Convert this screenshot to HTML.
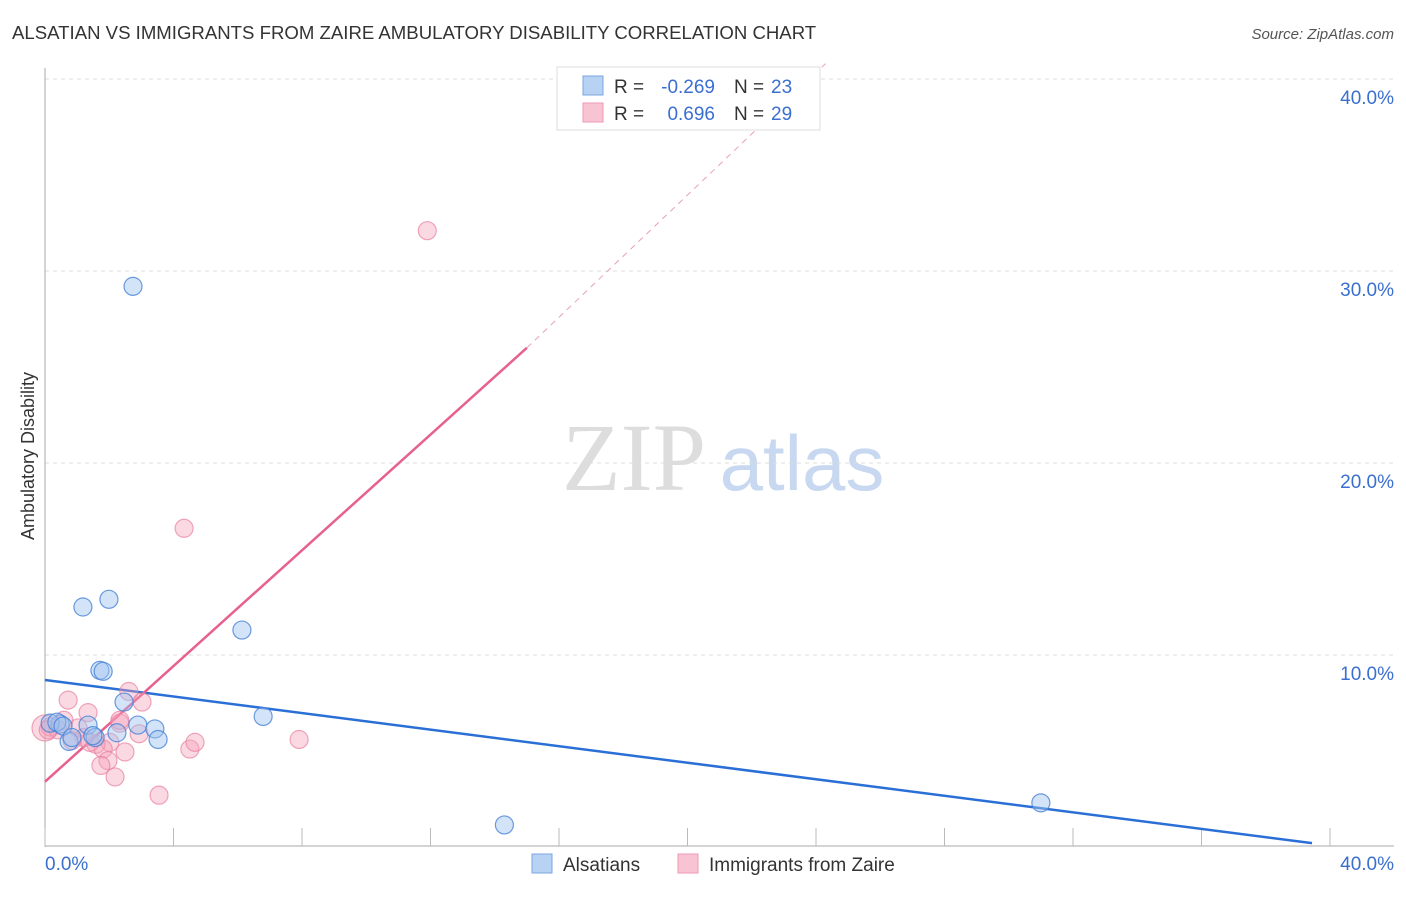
<!DOCTYPE html>
<html><head><meta charset="utf-8"><style>
body{margin:0;background:#fff;font-family:"Liberation Sans",sans-serif}
</style></head><body>
<svg id="c" width="1406" height="892" xmlns="http://www.w3.org/2000/svg" font-family="Liberation Sans, sans-serif">
<text x="12" y="39" font-size="18.6" fill="#333">ALSATIAN VS IMMIGRANTS FROM ZAIRE AMBULATORY DISABILITY CORRELATION CHART</text>
<text x="1394" y="39" font-size="15" fill="#555" font-style="italic" text-anchor="end">Source: ZipAtlas.com</text>
<g>
<text x="634" y="490" font-size="96" fill="#ddd" font-family="Liberation Serif, serif" text-anchor="middle">ZIP</text>
<text x="802" y="490" font-size="78" fill="#c8d8f0" text-anchor="middle">atlas</text>
</g>
<g id="grid"></g><g id="axes"></g><g id="lines"></g><g id="pts"></g>
<text transform="translate(34,456) rotate(-90)" font-size="18" fill="#333" text-anchor="middle">Ambulatory Disability</text>
<g>
<rect x="557" y="67" width="263" height="63" fill="#fff" stroke="#ddd"/>
<rect x="583" y="76" width="20" height="19" fill="#b8d2f4" stroke="#7aa6e0"/>
<rect x="583" y="103" width="20" height="19" fill="#f8c4d4" stroke="#ee9ab4"/>
<text x="614" y="93" font-size="19" fill="#333">R =</text>
<text x="715" y="93" font-size="19" fill="#3a6fd0" text-anchor="end">-0.269</text>
<text x="734" y="93" font-size="19" fill="#333">N =</text>
<text x="771" y="93" font-size="19" fill="#3a6fd0">23</text>
<text x="614" y="120" font-size="19" fill="#333">R =</text>
<text x="715" y="120" font-size="19" fill="#3a6fd0" text-anchor="end">0.696</text>
<text x="734" y="120" font-size="19" fill="#333">N =</text>
<text x="771" y="120" font-size="19" fill="#3a6fd0">29</text>
</g>
<g>
<rect x="532" y="854" width="20" height="19" fill="#b8d2f4" stroke="#7aa6e0"/>
<text x="563" y="871" font-size="19" fill="#333">Alsatians</text>
<rect x="678" y="854" width="20" height="19" fill="#f8c4d4" stroke="#ee9ab4"/>
<text x="709" y="871" font-size="19" fill="#333">Immigrants from Zaire</text>
</g>
</svg>
<script>
const yTicks=[10,20,30,40];
const blueX=[2.74,1.18,1.99,6.13,1.71,1.81,2.46,6.79,2.89,3.42,1.34,2.24,3.52,0.75,1.56,0.47,0.16,0.37,0.56,31.0,14.3,0.84,1.49];
const blueY=[29.2,12.5,12.9,11.3,9.2,9.15,7.55,6.8,6.35,6.15,6.35,5.95,5.6,5.5,5.7,6.4,6.45,6.5,6.3,2.3,1.15,5.7,5.8];
const pinkX=[0,11.9,4.33,0.72,2.61,3.02,1.34,2.33,0.59,1.03,2.02,1.59,1.81,2.49,4.51,4.67,7.91,1.96,1.74,2.18,3.55,2.93,0.16,0.4,1.21,0.84,2.33,1.4,0.1];
const pinkY=[6.2,32.1,16.6,7.65,8.1,7.55,7.0,6.45,6.6,6.2,5.45,5.35,5.1,4.95,5.1,5.45,5.6,4.5,4.25,3.65,2.7,5.9,6.25,6.1,5.7,5.55,6.6,5.45,6.1];
const blueLine=[[0,8.7],[39.44,0.2]];
const pinkLine=[[0,3.4],[15.0,26.0]];
const pinkDash=[[15.0,26.0],[24.3,40.8]];
const X=v=>45+v*32.125, Y=v=>847-v*19.2;
const NS="http://www.w3.org/2000/svg";
function mk(p,t,a){const e=document.createElementNS(NS,t);for(const k in a)e.setAttribute(k,a[k]);document.getElementById(p).appendChild(e);return e;}
yTicks.forEach(t=>{
 const l=mk('grid','line',{x1:45,x2:1394,y1:Y(t),y2:Y(t),stroke:'#ddd','stroke-dasharray':'4,4'});
 
 
 const tx=mk('grid','text',{x:1394,y:Y(t)+25,'font-size':19,fill:'#3a6fd0','text-anchor':'end'});tx.textContent=t.toFixed(1)+'%';
 
 
});
const ax=mk('axes','line',{x1:45,x2:45,y1:68,y2:847,stroke:'#aaa'});


const xa=mk('axes','line',{x1:45,x2:1394,y1:846,y2:846,stroke:'#aaa'});


for(let i=0;i<=10;i++){const t=mk('axes','line',{x1:X(i*4),x2:X(i*4),y1:828,y2:846,stroke:'#bbb'});
 
 }
[[0,'0.0%','start',45],[40,'40.0%','end',1394]].forEach(d=>{const t=mk('axes','text',{x:d[3],y:870,'font-size':19,fill:'#3a6fd0','text-anchor':d[2]});t.textContent=d[1];
 
 });
function ln(s,c,n,extra){const l=mk('lines','line',Object.assign({x1:X(s[0][0]),y1:Y(s[0][1]),x2:X(s[1][0]),y2:Y(s[1][1]),stroke:c},extra));
 
 }
ln(blueLine,'#2a6fd6','alsatians-trendline',{'stroke-width':2.5});
ln(pinkLine,'#e8608c','zaire-trendline',{'stroke-width':2.5});
ln(pinkDash,'#e8a0b8','zaire-trendline-extension',{'stroke-width':1,'stroke-dasharray':'6,5'});
pinkX.forEach((v,i)=>{const c=mk('pts','circle',{cx:X(v),cy:Y(pinkY[i]),r:i==0?13:9,fill:'rgba(244,160,186,0.4)',stroke:'rgba(232,128,160,0.7)','stroke-width':1.2});
 
 });
blueX.forEach((v,i)=>{const c=mk('pts','circle',{cx:X(v),cy:Y(blueY[i]),r:9,fill:'rgba(160,195,240,0.45)',stroke:'rgba(70,130,215,0.8)','stroke-width':1.2});
 
 });
</script>
</body></html>
